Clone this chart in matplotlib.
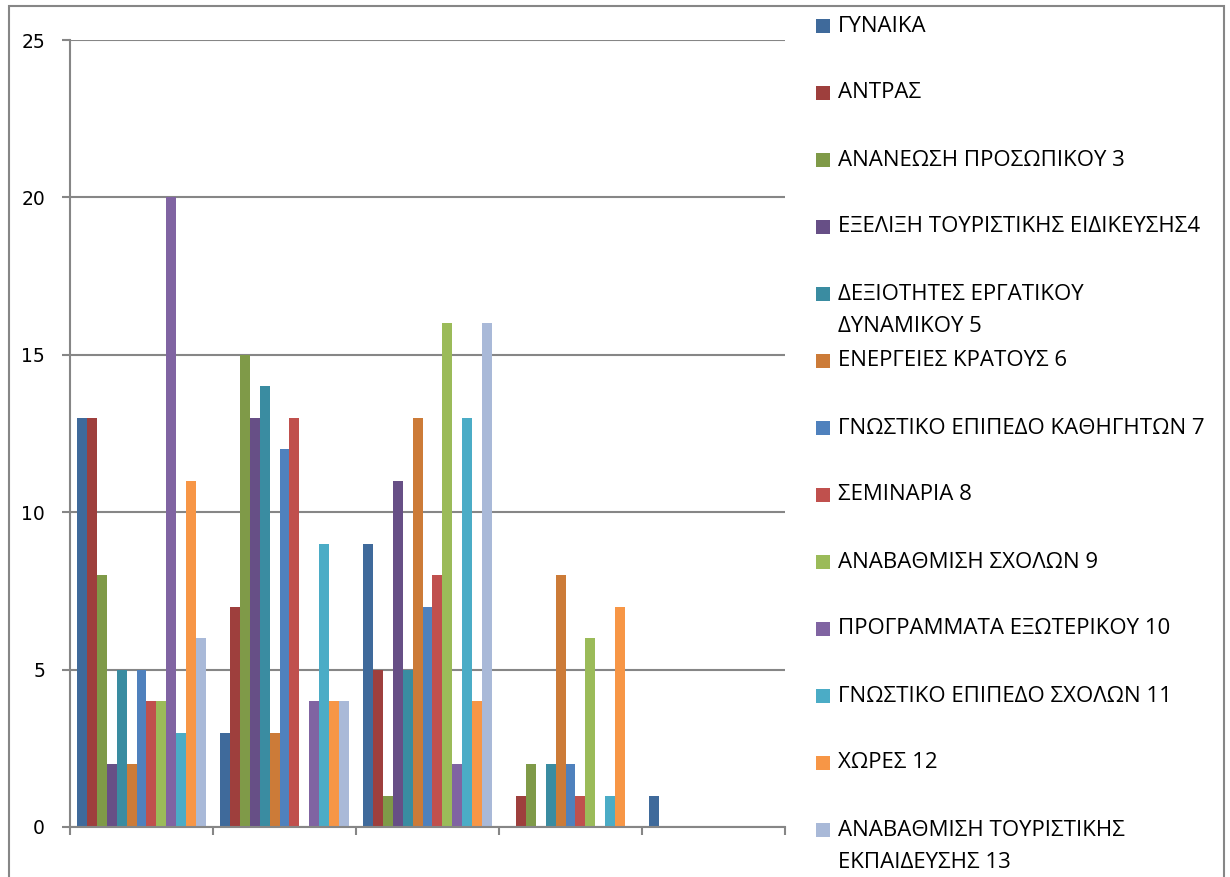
import numpy as np
import matplotlib.pyplot as plt
from matplotlib.patches import Rectangle

categories = ["1", "2", "3", "4", "5"]
series_names = [
    "ΓΥΝΑΙΚΑ",
    "ΑΝΤΡΑΣ",
    "ΑΝΑΝΕΩΣΗ ΠΡΟΣΩΠΙΚΟΥ 3",
    "ΕΞΕΛΙΞΗ ΤΟΥΡΙΣΤΙΚΗΣ ΕΙΔΙΚΕΥΣΗΣ4",
    "ΔΕΞΙΟΤΗΤΕΣ ΕΡΓΑΤΙΚΟΥ\nΔΥΝΑΜΙΚΟΥ 5",
    "ΕΝΕΡΓΕΙΕΣ ΚΡΑΤΟΥΣ 6",
    "ΓΝΩΣΤΙΚΟ ΕΠΙΠΕΔΟ ΚΑΘΗΓΗΤΩΝ 7",
    "ΣΕΜΙΝΑΡΙΑ 8",
    "ΑΝΑΒΑΘΜΙΣΗ ΣΧΟΛΩΝ 9",
    "ΠΡΟΓΡΑΜΜΑΤΑ ΕΞΩΤΕΡΙΚΟΥ 10",
    "ΓΝΩΣΤΙΚΟ ΕΠΙΠΕΔΟ ΣΧΟΛΩΝ 11",
    "ΧΩΡΕΣ 12",
    "ΑΝΑΒΑΘΜΙΣΗ ΤΟΥΡΙΣΤΙΚΗΣ\nΕΚΠΑΙΔΕΥΣΗΣ 13",
]
# one row per series, one column per category
values = [
    [13, 3, 9, 0, 1],
    [13, 7, 5, 1, 0],
    [8, 15, 1, 2, 0],
    [2, 13, 11, 0, 0],
    [5, 14, 5, 2, 0],
    [2, 3, 13, 8, 0],
    [5, 12, 7, 2, 0],
    [4, 13, 8, 1, 0],
    [4, 0, 16, 6, 0],
    [20, 4, 2, 0, 0],
    [3, 9, 13, 1, 0],
    [11, 4, 4, 7, 0],
    [6, 4, 16, 0, 0],
]
colors = ["#3F6A9B", "#9E3F3D", "#7F9A48", "#674F86", "#3A8CA1", "#CC7B38",
          "#4F81BD", "#C0504D", "#9BBB59", "#8064A2", "#4BACC6", "#F79646",
          "#A9B9D8"]

fig = plt.figure(figsize=(12.3, 8.77), dpi=100)
ax = fig.add_axes([70/1230, 1 - 827/877, 715/1230, 787/877])

n = len(series_names)
w = 1 / (n + 1.5)
x = np.arange(len(categories)) + 0.5
for j in range(n):
    ax.bar(x + (j - (n - 1) / 2) * w, values[j], width=w, color=colors[j],
           linewidth=0, zorder=3)

ax.set_xlim(0, len(categories))
ax.set_ylim(0, 25)
ax.set_yticks([0, 5, 10, 15, 20, 25])
ax.set_xticks(np.arange(len(categories) + 1))
ax.set_xticklabels([])
ax.grid(axis="y", color="#868686", linewidth=1.5, zorder=0)
for s in ["top", "right"]:
    ax.spines[s].set_visible(False)
for s in ["left", "bottom"]:
    ax.spines[s].set_color("#868686")
    ax.spines[s].set_linewidth(1.5)
    ax.spines[s].set_zorder(4)
ax.tick_params(axis="y", length=6, width=1.5, color="#868686",
               labelsize=13.5, pad=12)
ax.tick_params(axis="x", length=6, width=1.5, color="#868686")
for lab in ax.get_yticklabels():
    lab.set_fontfamily("DejaVu Sans")

# legend drawn by hand, one entry every 67 px
top_px = 26
step_px = 67
line_px = 33
for j, name in enumerate(series_names):
    yc = 1 - (top_px + j * step_px) / 877
    fig.patches.append(Rectangle((816/1230, yc - 7/877), 14/1230, 14/877,
                                 transform=fig.transFigure,
                                 facecolor=colors[j], edgecolor="none"))
    for k, line in enumerate(name.split("\n")):
        fig.text(838/1230, yc - k * line_px / 877, line, fontsize=16,
                 family="Open Sans", va="center", ha="left", color="black")

# outer chart frame
fig.patches.append(Rectangle((9/1230, -0.01), 1215/1230, 1 - 6/877 + 0.01,
                             transform=fig.transFigure, facecolor="none",
                             edgecolor="#868686", linewidth=1.5))

fig.savefig("out.png", dpi=100)
